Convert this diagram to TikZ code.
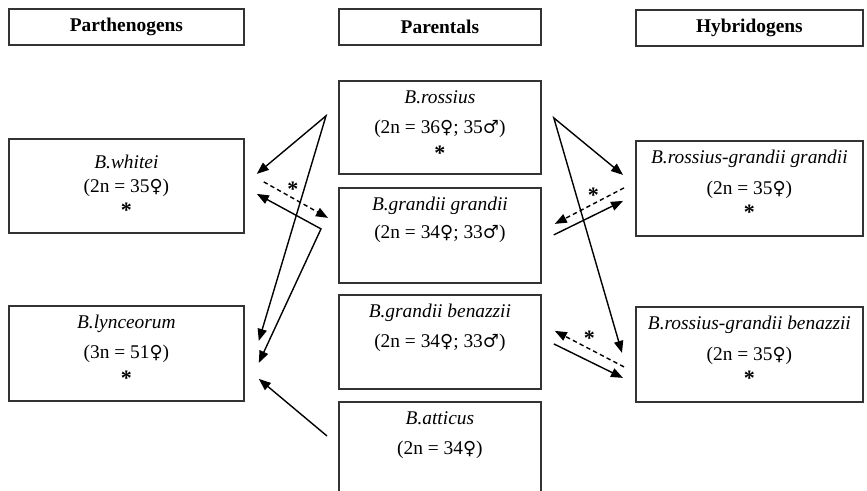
\documentclass[tikz,border=0pt]{standalone}
\usepackage{fontspec}
\setmainfont{Liberation Serif}
\newfontfamily\spsym{DejaVu Serif}
\usetikzlibrary{arrows.meta}
\definecolor{SPLine}{HTML}{333333}
\newcommand{\sptext}[4][11.5pt]{\begin{minipage}[t][#3][t]{#2}\centering\rule{0pt}{#1}#4\end{minipage}}
\newcommand{\spstar}{{\fontsize{11}{11}\selectfont\textbf{*}}}
\newcommand{\fem}{{\spsym\fontsize{9}{15}\selectfont ♀}}
\newcommand{\mal}{{\spsym\fontsize{9}{15}\selectfont ♂}}

\begin{document}
\begin{tikzpicture}[x=0.5pt,y=-0.5pt,
  font=\fontsize{9.7}{15}\selectfont,
  >={Triangle[length=6pt,width=4.6pt]},
  spbox/.style={draw=SPLine,line width=0.9pt,inner sep=0pt,anchor=north west},
  sphead/.style={spbox,minimum height=18pt,font=\fontsize{9.7}{15}\selectfont\bfseries},
  link/.style={line width=0.7pt,->},
  dlink/.style={link,dash pattern=on 2.2pt off 1.6pt},
  starlbl/.style={midway,above=1.5pt,inner sep=0pt}]
\useasboundingbox (0,0) rectangle (867,491);
\clip (0,0) rectangle (867,491);
% column heads
\node[sphead,minimum width=117.5pt] (hdpart) at (8,8) {Parthenogens};
\node[sphead,minimum width=101pt] (hdpar) at (338,8) {Parentals};
\node[sphead,minimum width=113.5pt] (hdhyb) at (635,9) {Hybridogens};
% parthenogens
\node[spbox] (whitei) at (8,138) {\sptext[15pt]{117.5pt}{47pt}{\textit{B.whitei}\\[-3pt](2n = 35\fem)\\[-2.5pt]\spstar}};
\node[spbox] (lynceorum) at (8,305) {\sptext{117.5pt}{47.5pt}{\textit{B.lynceorum}\\(3n = 51\fem)\\[-1.5pt]\spstar}};
% parentals
\node[spbox] (rossius) at (338,80) {\sptext{101pt}{46.5pt}{\textit{B.rossius}\\(2n = 36\fem; 35\mal)\\[-1.5pt]\spstar}};
\node[spbox] (grandii) at (338,187) {\sptext{101pt}{47.5pt}{\textit{B.grandii grandii}\\[-1pt](2n = 34\fem; 33\mal)}};
\node[spbox] (benazzii) at (338,294) {\sptext{101pt}{47pt}{\textit{B.grandii benazzii}\\(2n = 34\fem; 33\mal)}};
\node[spbox] (atticus) at (338,401) {\sptext{101pt}{60pt}{\textit{B.atticus}\\(2n = 34\fem)}};
% hybridogens
\node[spbox] (rgg) at (635,140) {\sptext{113.5pt}{47.5pt}{\textit{B.rossius-grandii grandii}\\[0.5pt](2n = 35\fem)\\[-2.5pt]\spstar}};
\node[spbox] (rgb) at (635,306) {\sptext{113.5pt}{47.5pt}{\textit{B.rossius-grandii benazzii}\\[0.5pt](2n = 35\fem)\\[-2.5pt]\spstar}};
% left links
\draw[link,<->] ([shift={(12,-12)}]whitei.east) -- ([shift={(-12,-11.5)}]rossius.west) -- ([shift={(14,-12.5)}]lynceorum.east);
\draw[link,<->] ([shift={(12,8)}]whitei.east) -- ([shift={(-17,-6.5)}]grandii.west) -- ([shift={(14,9.5)}]lynceorum.east);
\draw[dlink] ([shift={(19,-4)}]whitei.east) -- node[starlbl,xshift=-1.5pt] {\spstar} ([shift={(-10,-17.5)}]grandii.west);
\draw[link] ([shift={(-11,35)}]atticus.north west) -- ([shift={(14,25.5)}]lynceorum.east);
% right links
\draw[link,<->] ([shift={(-12,-13.5)}]rgg.west) -- ([shift={(12,-9.5)}]rossius.east) -- ([shift={(-13,-1.5)}]rgb.west);
\draw[dlink] ([shift={(-11,-0.5)}]rgg.west) -- node[starlbl,xshift=2pt] {\spstar} ([shift={(13,-11.5)}]grandii.east);
\draw[link] ([shift={(12,-0.5)}]grandii.east) -- ([shift={(-12,12.5)}]rgg.west);
\draw[dlink] ([shift={(-11,12.5)}]rgb.west) -- node[starlbl] {\spstar} ([shift={(13,-11)}]benazzii.east);
\draw[link] ([shift={(12,2)}]benazzii.east) -- ([shift={(-12,23.5)}]rgb.west);
\end{tikzpicture}
\end{document}
